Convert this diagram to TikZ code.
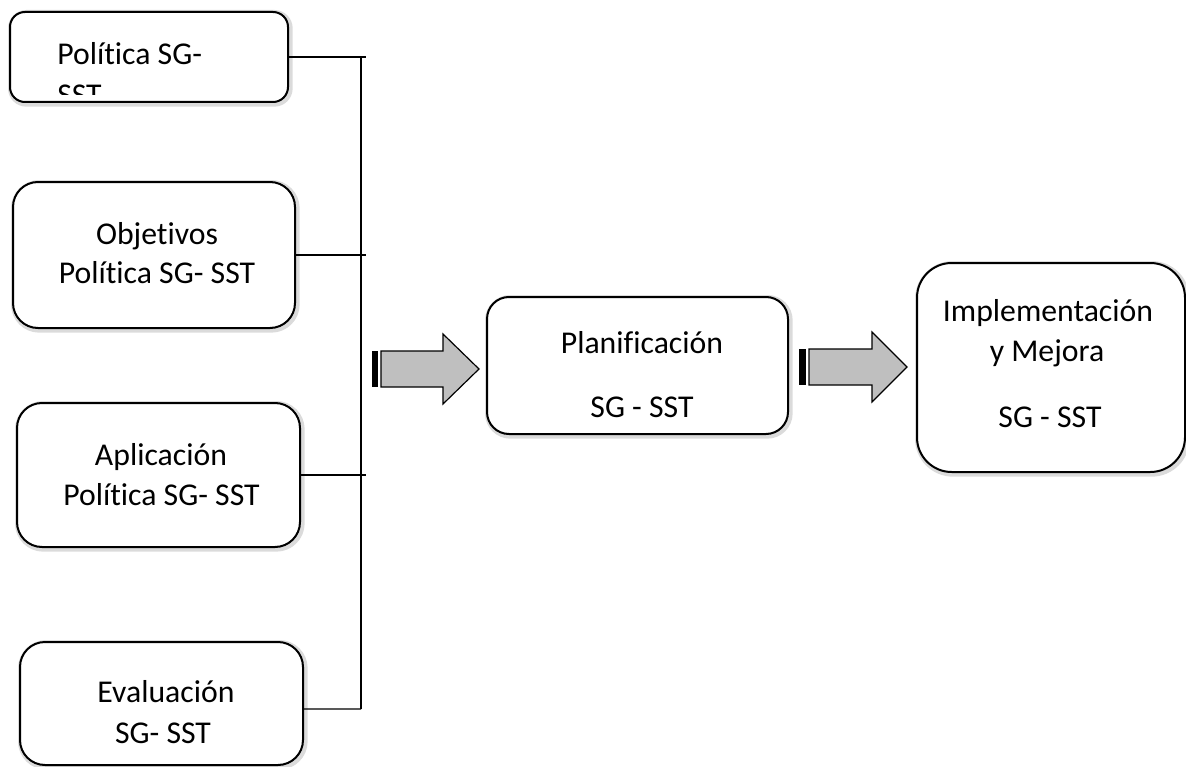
\documentclass[tikz,border=0pt]{standalone}
\usepackage{fontspec}
\setmainfont{Carlito}[Ligatures=NoCommon]
\begin{document}
\begin{tikzpicture}[x=0.75pt,y=-0.75pt,
  box/.style={draw=black, line width=1.5pt, fill=white, rounded corners=#1, inner sep=0pt,
    preaction={draw=black!14, line width=5pt, transform canvas={shift={(1pt,-1pt)}}}},
  txt/.style={font=\fontsize{23.8}{28}\selectfont, inner sep=0pt, anchor=base},
  conn/.style={draw=black, line width=0.8pt},
  barrow/.style={draw=black, line width=0.9pt, fill=black!25, line join=miter},
  stripe/.style={fill=black}]
\useasboundingbox (0,0) rectangle (1186,767);
\clip (0,0) rectangle (1186,767);

% boxes
\node[box=11.25pt, minimum width=208.5pt, minimum height=67.5pt] (b1) at (149,57) {};
\node[box=18.75pt, minimum width=211.5pt, minimum height=109.5pt] (b2) at (154,255) {};
\node[box=18.75pt, minimum width=212.25pt, minimum height=108pt] (b3) at (158.5,475) {};
\node[box=18.75pt, minimum width=212.25pt, minimum height=92.25pt] (b4) at (161.5,703.5) {};
\node[box=16.5pt, minimum width=225.75pt, minimum height=102.75pt] (bp) at (637.5,365.5) {};
\node[box=26pt, minimum width=201pt, minimum height=156.75pt] (bi) at (1051,367.5) {};

% texts
\begin{scope}
  \clip (12,14) rectangle (286,95);
  \node[txt, anchor=base west] (t1a) at (57,65) {Política SG-};
  \node[txt, anchor=base west] (t1b) at (57,106) {SST};
\end{scope}
\node[txt] (t2a) at (157,244) {Objetivos};
\node[txt] (t2b) at (157,283) {Política SG- SST};
\node[txt] (t3a) at (161,465) {Aplicación};
\node[txt] (t3b) at (161.5,505) {Política SG- SST};
\node[txt] (t4a) at (166,702) {Evaluación};
\node[txt] (t4b) at (163,743) {SG- SST};
\node[txt] (tpa) at (642,353) {Planificación};
\node[txt] (tpb) at (642,417) {SG - SST};
\node[txt] (tia) at (1048,321) {Implementación};
\node[txt] (tib) at (1047,361) {y Mejora};
\node[txt] (tic) at (1050,427) {SG - SST};

% connectors
\coordinate (top) at (361,57);
\coordinate (bot) at (361,709);
\coordinate (ends) at (366,0);
\draw[conn] (top) -- (bot);
\draw[conn] (b1.east) -- (b1.east -| ends);
\draw[conn] (b2.east) -- (b2.east -| ends);
\draw[conn] (b3.east) -- (b3.east -| ends);
\draw[conn] ([yshift=-4.1pt]b4.east) -- (bot);

% block arrows
\fill[stripe] (372,351) rectangle (378,387);
\draw[barrow] (381,351) -- (443,351) -- (443,334) -- (479,369) -- (443,404) -- (443,387) -- (381,387) -- cycle;
\fill[stripe] (799,349) rectangle (806,385);
\draw[barrow] (809,349) -- (872,349) -- (872,332) -- (907,367) -- (872,402) -- (872,385) -- (809,385) -- cycle;
\end{tikzpicture}
\end{document}
